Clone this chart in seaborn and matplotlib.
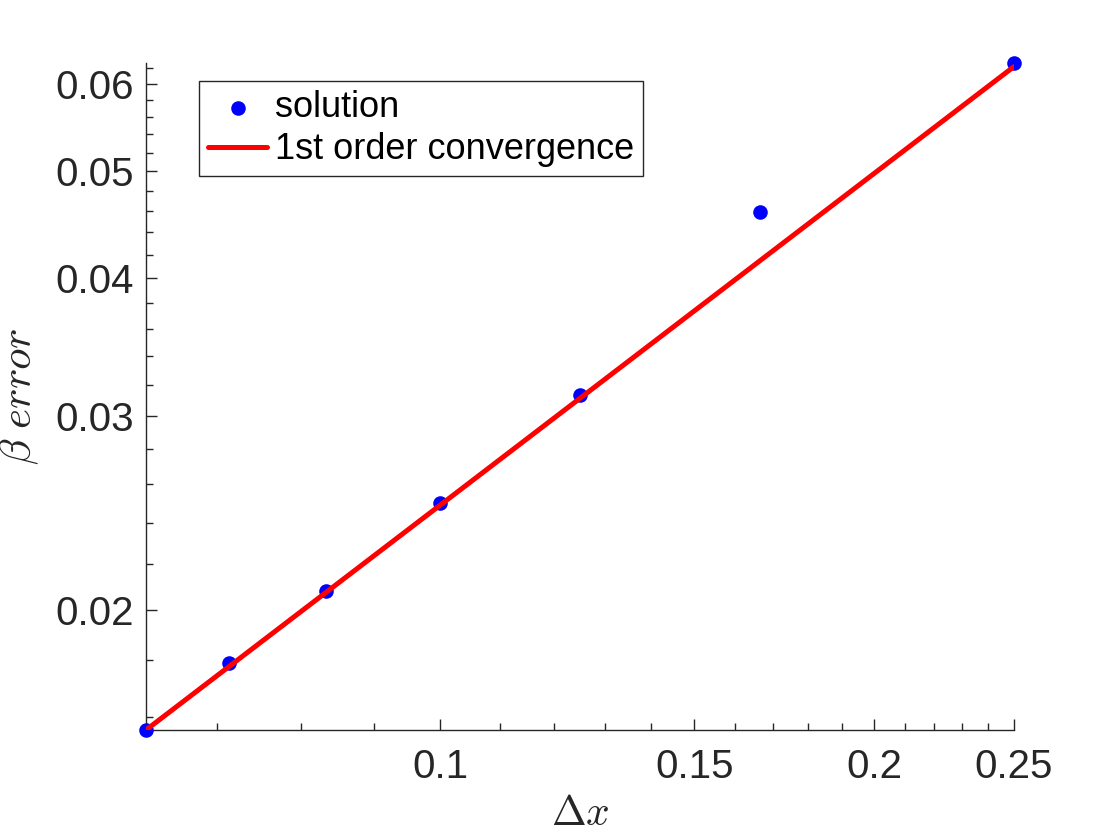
import matplotlib
matplotlib.use('Agg')
import pandas as pd
import seaborn as sns
from matplotlib import pyplot as plt
from matplotlib import ticker

# grid spacing (1/N) and measured beta error
DX = [0.0625, 0.0714, 0.0833, 0.1, 0.125, 0.1667, 0.25]
BETA_ERROR = [0.01556, 0.0179, 0.0208, 0.0250, 0.0313, 0.0459, 0.0627]

# first order reference line (slope 1 on log-log)
REF_DX = [0.0625, 0.25]
REF_ERROR = [0.01556, 0.06224]

X_TICKS = [0.1, 0.15, 0.2, 0.25]
X_TICK_LABELS = ['0.1', '0.15', '0.2', '0.25']
Y_TICKS = [0.02, 0.03, 0.04, 0.05, 0.06]
Y_TICK_LABELS = ['0.02', '0.03', '0.04', '0.05', '0.06']

TEXT_COLOR = '#262626'


def main():
    sns.set_theme(style='ticks')
    plt.rcParams['font.family'] = ['Liberation Sans', 'DejaVu Sans']
    plt.rcParams['mathtext.fontset'] = 'cm'

    df = pd.DataFrame({'dx': DX, 'err': BETA_ERROR})
    ref = pd.DataFrame({'dx': REF_DX, 'err': REF_ERROR})

    fig = plt.figure(figsize=(11.2, 8.4), dpi=100)
    ax = fig.add_axes([0.1304, 0.131, 0.775, 0.794])

    sns.scatterplot(data=df, x='dx', y='err', ax=ax, color=(0, 0, 1), s=110,
                    linewidth=0, label='solution', clip_on=False, zorder=3)
    sns.lineplot(data=ref, x='dx', y='err', ax=ax, color=(1, 0, 0), linewidth=3.6,
                 label='1st order convergence', zorder=4)

    ax.set_xscale('log')
    ax.set_yscale('log')
    ax.set_xlim(min(DX), max(DX))
    ax.set_ylim(min(BETA_ERROR), max(BETA_ERROR))

    ax.xaxis.set_major_locator(ticker.FixedLocator(X_TICKS))
    ax.xaxis.set_major_formatter(ticker.FixedFormatter(X_TICK_LABELS))
    ax.xaxis.set_minor_locator(ticker.MultipleLocator(0.01))
    ax.xaxis.set_minor_formatter(ticker.NullFormatter())
    ax.yaxis.set_major_locator(ticker.FixedLocator(Y_TICKS))
    ax.yaxis.set_major_formatter(ticker.FixedFormatter(Y_TICK_LABELS))
    ax.yaxis.set_minor_locator(ticker.MultipleLocator(0.002))
    ax.yaxis.set_minor_formatter(ticker.NullFormatter())

    ax.tick_params(which='both', direction='in', colors=TEXT_COLOR, width=1)
    ax.tick_params(which='major', length=8, labelsize=29)
    ax.tick_params(which='minor', length=5)
    ax.tick_params(axis='x', which='major', pad=13)
    ax.tick_params(axis='y', which='major', pad=9)

    sns.despine(ax=ax)
    for side in ['left', 'bottom']:
        ax.spines[side].set_color(TEXT_COLOR)
        ax.spines[side].set_linewidth(1)

    ax.set_xlabel(r'$\Delta x$', fontsize=30, color=TEXT_COLOR, labelpad=6)
    ax.set_ylabel(r'$\beta\ error$', fontsize=31, color=TEXT_COLOR, labelpad=10)

    leg = ax.legend(loc='upper left', bbox_to_anchor=(0.061, 0.973), fontsize=26,
                    frameon=True, fancybox=False, handlelength=1.64,
                    handletextpad=0.22, borderpad=0.25, labelspacing=0.2,
                    borderaxespad=0)
    leg.get_frame().set_edgecolor(TEXT_COLOR)
    leg.get_frame().set_linewidth(1)
    leg.get_frame().set_alpha(1)
    for t in leg.get_texts():
        t.set_color('black')

    fig.savefig('out.png', dpi=100, facecolor='white')


if __name__ == '__main__':
    main()
